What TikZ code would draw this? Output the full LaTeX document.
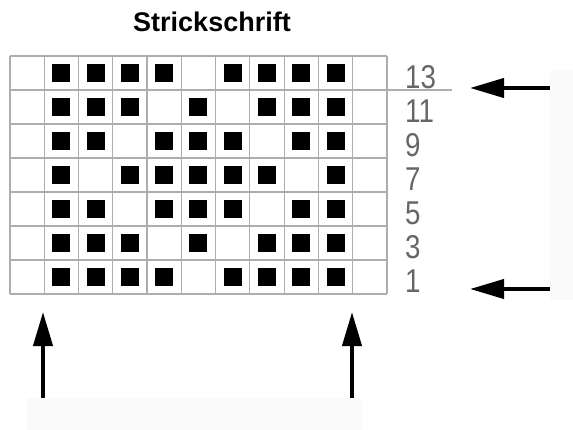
\documentclass[tikz,border=0pt]{standalone}
\usepackage{fontspec}
\setmainfont{Liberation Sans}
\newfontfamily\rownumfont[FakeStretch=0.84]{Liberation Sans}
\usetikzlibrary{arrows.meta}
\definecolor{gridgray}{gray}{0.68}
\definecolor{numgray}{gray}{0.4}
\definecolor{maskgray}{gray}{0.98}

\begin{document}
\begin{tikzpicture}[x=1pt, y=-1pt,
  gridline/.style={gridgray, line width=1.2pt},
  stitch/.style={fill=black},
  rownum/.style={numgray, anchor=west, inner sep=0pt, font=\rownumfont\fontsize{33}{33}\selectfont},
  bigarrow/.style={line width=4pt, -{Triangle[length=34pt, width=19pt]}}]
  \useasboundingbox (0,0) rectangle (573,430);
  % covered label fields
  \fill[maskgray] (27,398) rectangle (362,430);
  \fill[maskgray] (550,70) rectangle (573,300);
  % title
  \node[font=\bfseries\fontsize{27}{30}\selectfont] (title) at (212,22) {Strickschrift};
  % chart grid
  \foreach \i in {0,...,11}
    \draw[gridline] (10+34.27*\i,56) -- (10+34.27*\i,294);
  \foreach \j in {0,...,7}
    \draw[gridline] (10,56+34*\j) -- (387,56+34*\j);
  \draw[gridline] (387,90) -- (452,90);
  % stitches
  \foreach \r/\cols in {0/{1,2,3,4,6,7,8,9}, 1/{1,2,3,5,7,8,9}, 2/{1,2,4,5,6,8,9},
      3/{1,3,4,5,6,7,9}, 4/{1,2,4,5,6,8,9}, 5/{1,2,3,5,7,8,9}, 6/{1,2,3,4,6,7,8,9}}
    \foreach \c in \cols
      \fill[stitch] (10+34.27*\c+17.1,56+34*\r+17) +(-9,-9) rectangle +(9,9);
  % row numbers
  \foreach \r/\n in {0/13, 1/11, 2/9, 3/7, 4/5, 5/3, 6/1}
    \node[rownum] (row\n) at (405,56+34*\r+21) {\n};
  % arrows
  \coordinate (topTail) at (550,88);
  \coordinate (topTip) at (470,88);
  \coordinate (lowTail) at (550,289);
  \coordinate (lowTip) at (470,289);
  \coordinate (leftTail) at (43,398);
  \coordinate (leftTip) at (43,312);
  \coordinate (rightTail) at (352,398);
  \coordinate (rightTip) at (352,312);
  \draw[bigarrow] (topTail) -- (topTip);
  \draw[bigarrow] (lowTail) -- (lowTip);
  \draw[bigarrow] (leftTail) -- (leftTip);
  \draw[bigarrow] (rightTail) -- (rightTip);
\end{tikzpicture}
\end{document}
